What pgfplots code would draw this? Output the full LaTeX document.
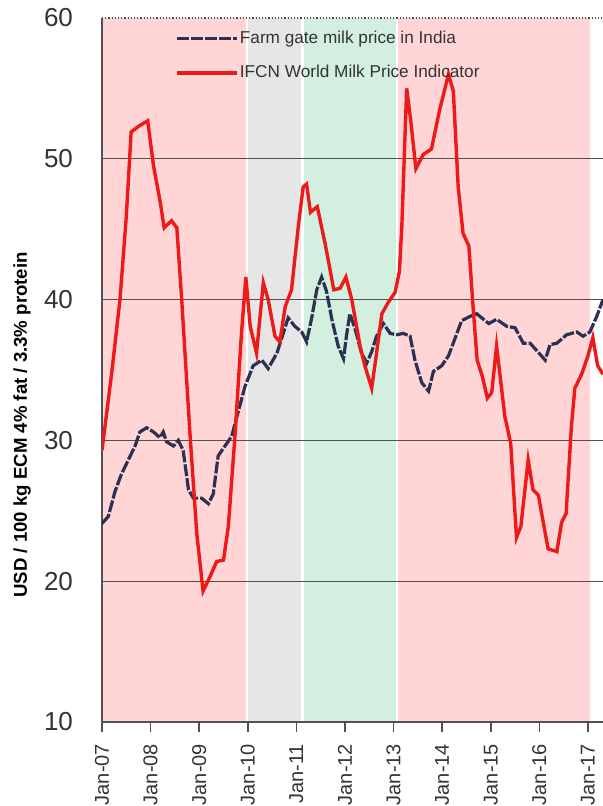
\documentclass[border=0pt]{standalone}
\usepackage{fontspec}
\setmainfont{Liberation Sans}
\usepackage{pgfplots}
\pgfplotsset{compat=1.18}

\definecolor{bgred}{HTML}{FFD5D5}
\definecolor{bggrey}{HTML}{E6E6E6}
\definecolor{bggreen}{HTML}{D3EFE0}
\definecolor{ifcnred}{HTML}{EE1A1A}
\definecolor{indianavy}{HTML}{2E3052}
\definecolor{gridgrey}{HTML}{505050}
\definecolor{txtgrey}{HTML}{333333}

% monthly-ish readings, x in decimal years
\pgfplotstableread{
t v
2007.00 24.1
2007.13 24.6
2007.27 26.4
2007.40 27.6
2007.54 28.6
2007.68 29.6
2007.78 30.6
2007.92 30.9
2008.06 30.6
2008.19 30.2
2008.26 30.6
2008.33 29.9
2008.47 29.6
2008.57 30.0
2008.67 29.3
2008.78 26.5
2008.88 25.9
2009.05 25.9
2009.19 25.5
2009.29 26.2
2009.39 28.9
2009.53 29.6
2009.67 30.3
2009.80 32.0
2009.94 33.8
2010.11 35.3
2010.29 35.7
2010.42 35.1
2010.60 36.2
2010.73 37.6
2010.83 38.7
2010.97 38.1
2011.11 37.7
2011.21 37.0
2011.31 38.6
2011.42 40.7
2011.52 41.6
2011.62 40.6
2011.73 38.6
2011.86 36.7
2011.97 35.8
2012.03 37.4
2012.10 39.0
2012.21 37.9
2012.34 36.2
2012.45 35.5
2012.55 36.3
2012.65 37.4
2012.79 38.3
2012.93 37.6
2013.06 37.5
2013.20 37.6
2013.34 37.4
2013.44 35.7
2013.58 34.1
2013.72 33.5
2013.82 34.9
2013.99 35.3
2014.13 36.0
2014.26 37.2
2014.40 38.5
2014.57 38.8
2014.71 39.0
2014.85 38.6
2014.96 38.3
2015.12 38.6
2015.33 38.1
2015.50 38.0
2015.67 36.9
2015.81 36.9
2015.94 36.4
2016.12 35.7
2016.22 36.8
2016.36 36.9
2016.56 37.5
2016.77 37.7
2016.90 37.4
2017.04 37.7
2017.18 38.8
2017.31 40.0
}\india

\pgfplotstableread{
t v
2007.00 29.3
2007.20 34.8
2007.37 40.0
2007.50 45.9
2007.60 51.9
2007.75 52.3
2007.94 52.7
2008.06 49.5
2008.19 47.1
2008.28 45.1
2008.43 45.6
2008.54 45.1
2008.64 40.0
2008.81 30.5
2008.95 23.4
2009.08 19.3
2009.22 20.3
2009.36 21.4
2009.50 21.5
2009.60 23.9
2009.74 30.5
2009.87 37.6
2009.96 41.6
2010.05 38.1
2010.18 36.2
2010.32 41.2
2010.42 40.0
2010.56 37.4
2010.66 37.0
2010.77 39.5
2010.90 40.7
2011.04 45.2
2011.14 48.0
2011.21 48.2
2011.29 46.2
2011.43 46.6
2011.59 44.0
2011.77 40.7
2011.90 40.8
2012.02 41.6
2012.14 40.0
2012.31 36.7
2012.41 35.3
2012.55 33.7
2012.65 36.2
2012.76 39.0
2012.89 39.8
2013.03 40.5
2013.12 42.0
2013.17 45.2
2013.27 55.0
2013.35 52.8
2013.46 49.3
2013.61 50.3
2013.78 50.7
2013.95 53.5
2014.13 56.0
2014.23 54.8
2014.33 48.0
2014.43 44.7
2014.55 43.8
2014.64 39.3
2014.72 35.7
2014.83 34.5
2014.93 33.0
2015.02 33.4
2015.12 36.7
2015.29 31.7
2015.41 29.8
2015.53 23.1
2015.62 23.9
2015.77 28.6
2015.87 26.5
2015.98 26.1
2016.18 22.3
2016.36 22.1
2016.46 24.2
2016.55 24.8
2016.66 31.0
2016.73 33.7
2016.87 34.7
2017.00 36.0
2017.10 37.3
2017.20 35.3
2017.31 34.7
}\ifcn

\begin{document}
\begin{tikzpicture}
\begin{axis}[
  name=ax,
  set layers,
  scale only axis,
  width=250.5pt, height=352pt,
  xmin=2007, xmax=2017.31,
  ymin=10, ymax=60,
  axis x line*=bottom, axis y line*=left,
  axis line style={gridgrey, line width=0.8pt, -},
  xtick={2007,2008,2009,2010,2011,2012,2013,2014,2015,2016,2017},
  xticklabels={Jan-07,Jan-08,Jan-09,Jan-10,Jan-11,Jan-12,Jan-13,Jan-14,Jan-15,Jan-16,Jan-17},
  x tick label style={yshift=-2.5pt, rotate=90, anchor=east, font=\fontsize{10}{12}\selectfont, text=txtgrey},
  x tick style={gridgrey, line width=0.8pt},
  tick align=outside,
  major tick length=5pt,
  ytick={10,20,30,40,50,60},
  y tick style={draw=none},
  y tick label style={xshift=-6pt, font=\fontsize{13}{15}\selectfont, text=txtgrey},
  /pgf/number format/assume math mode=true,
  extra y ticks={20,30,40,50},
  extra y tick labels={},
  extra y tick style={grid=major, major grid style={gridgrey, line width=0.5pt}},
  ylabel={USD / 100 kg ECM 4\% fat / 3.3\% protein},
  every axis y label/.style={at={(rel axis cs:-0.1597,0.422)}, rotate=90, anchor=center,
    font=\bfseries\fontsize{9.3}{11}\selectfont},
  legend style={draw=none, fill=none, at={(0.146,0.984)}, anchor=north west,
    font=\fontsize{8.6}{10}\selectfont, text=txtgrey, row sep=8.5pt, inner sep=0pt,
    nodes={inner sep=0.5pt}},
  legend cell align=left,
  legend image code/.code={\draw[#1] (0pt,0pt) -- (30pt,0pt);},
]
\addplot[fill=bgred, draw=none, forget plot, on layer=axis background]
  coordinates {(2007,10.1) (2009.96,10.1) (2009.96,60) (2007,60)} -- cycle;
\addplot[fill=bggrey, draw=none, forget plot, on layer=axis background]
  coordinates {(2010.0,10.1) (2011.1,10.1) (2011.1,60) (2010.0,60)} -- cycle;
\addplot[fill=bggreen, draw=none, forget plot, on layer=axis background]
  coordinates {(2011.16,10.1) (2013.05,10.1) (2013.05,60) (2011.16,60)} -- cycle;
\addplot[fill=bgred, draw=none, forget plot, on layer=axis background]
  coordinates {(2013.09,10.1) (2017.04,10.1) (2017.04,60) (2013.09,60)} -- cycle;

\addplot[indianavy, line width=1.6pt, dash pattern=on 6pt off 1pt] table[x=t, y=v] {\india};
\addlegendentry{Farm gate milk price in India}
\addplot[ifcnred, line width=1.7pt] table[x=t, y=v] {\ifcn};
\addlegendentry{IFCN World Milk Price Indicator}

\draw[gridgrey, densely dotted, line width=0.6pt] (rel axis cs:0,1) -- (rel axis cs:1,1);
\end{axis}
\pgfresetboundingbox
\path[use as bounding box] ([xshift=-51pt,yshift=-42pt]ax.south west) rectangle ([yshift=9pt]ax.north east);
\end{tikzpicture}
\end{document}
